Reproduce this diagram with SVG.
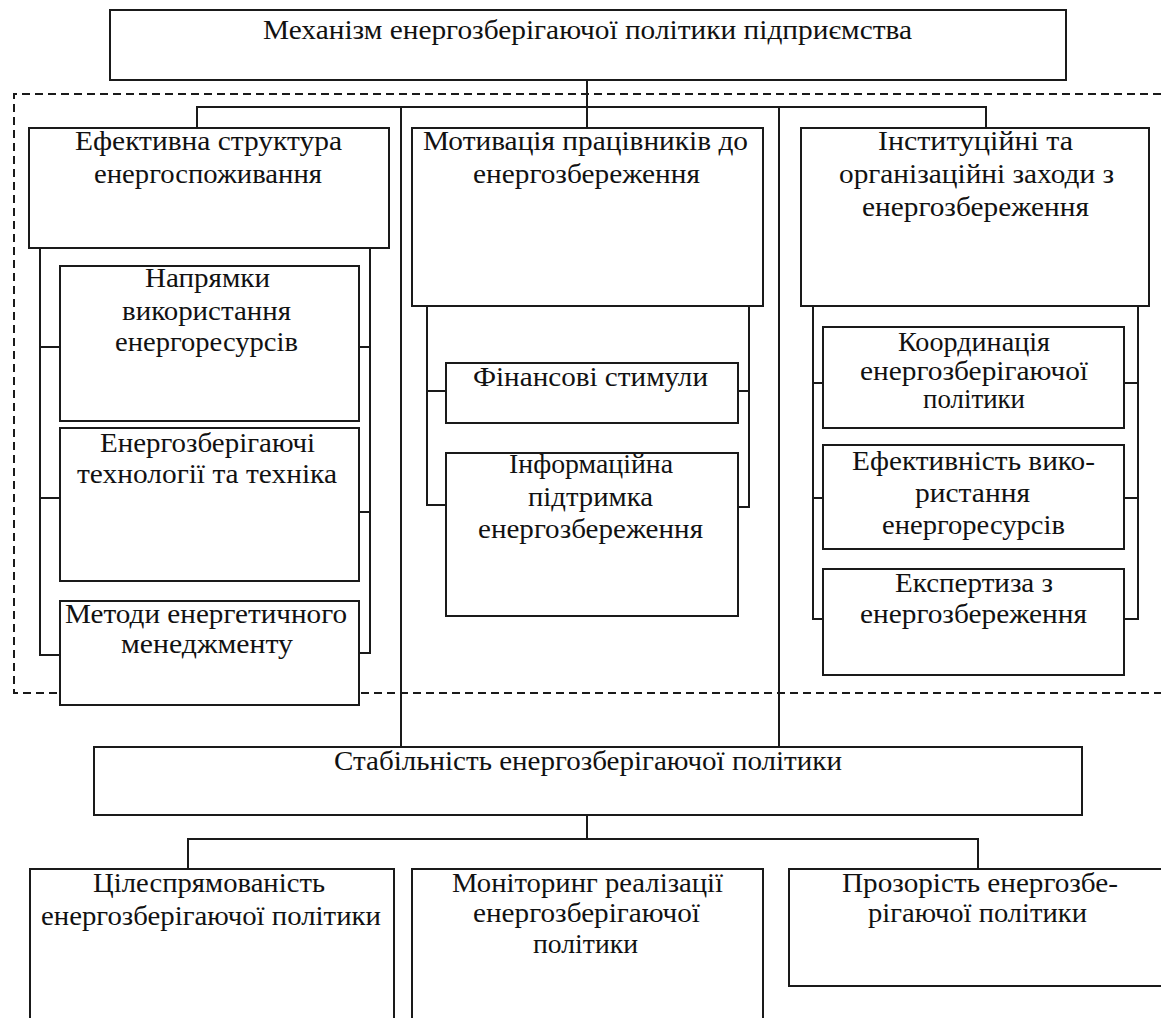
<svg xmlns="http://www.w3.org/2000/svg" width="1161" height="1018" viewBox="0 0 1161 1018">
<style>
.box{fill:#fff;stroke:#1a1a1a;stroke-width:2}
.ln{fill:none;stroke:#1a1a1a;stroke-width:2}
.dash{fill:none;stroke:#1a1a1a;stroke-width:2;stroke-dasharray:8 5}
text{font-family:"Liberation Serif","Times New Roman",serif;font-size:28px;fill:#111}
</style>
<rect width="1161" height="1018" fill="#fff"/>
<g id="dashed-frame">
<path class="dash" d="M1161 94 H14 V693 H1161"/>
</g>
<g id="connectors">
<path class="ln" d="M587 80 V128"/>
<path class="ln" d="M197 128 V107 H986 V128"/>
<path class="ln" d="M401 107 V747"/>
<path class="ln" d="M779 107 V747"/>
<path class="ln" d="M40 248 V655 H60 M40 347 H60 M40 498 H60"/>
<path class="ln" d="M370 248 V653 H359 M370 347 H359 M370 512 H359"/>
<path class="ln" d="M427 306 V505 H446 M427 391 H446"/>
<path class="ln" d="M749 306 V507 H738 M749 391 H738"/>
<path class="ln" d="M813 306 V619 H823 M813 383 H823 M813 498 H823"/>
<path class="ln" d="M1138 306 V619 H1124 M1138 383 H1124 M1138 498 H1124"/>
<path class="ln" d="M587 815 V839"/>
<path class="ln" d="M188 869 V839 H978 V869"/>
</g>
<g id="node-top">
<rect class="box" x="110" y="10" width="956" height="70"/>
<text x="263" y="39" textLength="649" lengthAdjust="spacingAndGlyphs">Механізм енергозберігаючої політики підприємства</text>
</g>
<g id="node-structure">
<rect class="box" x="29" y="128" width="360" height="120"/>
<text x="75" y="150" textLength="267" lengthAdjust="spacingAndGlyphs">Ефективна структура</text>
<text x="94" y="183" textLength="228" lengthAdjust="spacingAndGlyphs">енергоспоживання</text>
</g>
<g id="node-motivation">
<rect class="box" x="412" y="128" width="351" height="178"/>
<text x="423" y="150" textLength="325" lengthAdjust="spacingAndGlyphs">Мотивація працівників  до</text>
<text x="473" y="183" textLength="227" lengthAdjust="spacingAndGlyphs">енергозбереження</text>
</g>
<g id="node-institutional">
<rect class="box" x="801" y="128" width="348" height="178"/>
<text x="878" y="150" textLength="195" lengthAdjust="spacingAndGlyphs">Інституційні  та</text>
<text x="839" y="183" textLength="275" lengthAdjust="spacingAndGlyphs">організаційні  заходи з</text>
<text x="862" y="216" textLength="227" lengthAdjust="spacingAndGlyphs">енергозбереження</text>
</g>
<g id="node-directions">
<rect class="box" x="60" y="266" width="299" height="155"/>
<text x="145" y="287" textLength="125" lengthAdjust="spacingAndGlyphs">Напрямки</text>
<text x="122" y="320" textLength="169" lengthAdjust="spacingAndGlyphs">використання</text>
<text x="115" y="351" textLength="183" lengthAdjust="spacingAndGlyphs">енергоресурсів</text>
</g>
<g id="node-technologies">
<rect class="box" x="60" y="428" width="299" height="153"/>
<text x="100" y="452" textLength="215" lengthAdjust="spacingAndGlyphs">Енергозберігаючі</text>
<text x="77" y="483" textLength="260" lengthAdjust="spacingAndGlyphs">технології  та техніка</text>
</g>
<g id="node-methods">
<rect class="box" x="60" y="601" width="299" height="104"/>
<text x="65" y="623" textLength="282" lengthAdjust="spacingAndGlyphs">Методи енергетичного</text>
<text x="121" y="653" textLength="172" lengthAdjust="spacingAndGlyphs">менеджменту</text>
</g>
<g id="node-financial">
<rect class="box" x="446" y="363" width="292" height="60"/>
<text x="473" y="386" textLength="235" lengthAdjust="spacingAndGlyphs">Фінансові  стимули</text>
</g>
<g id="node-information">
<rect class="box" x="446" y="453" width="292" height="163"/>
<text x="509" y="473" textLength="164" lengthAdjust="spacingAndGlyphs">Інформаційна</text>
<text x="528" y="506" textLength="125" lengthAdjust="spacingAndGlyphs">підтримка</text>
<text x="478" y="538" textLength="225" lengthAdjust="spacingAndGlyphs">енергозбереження</text>
</g>
<g id="node-coordination">
<rect class="box" x="823" y="327" width="301" height="101"/>
<text x="898" y="351" textLength="152" lengthAdjust="spacingAndGlyphs">Координація</text>
<text x="860" y="380" textLength="228" lengthAdjust="spacingAndGlyphs">енергозберігаючої</text>
<text x="923" y="408" textLength="102" lengthAdjust="spacingAndGlyphs">політики</text>
</g>
<g id="node-efficiency">
<rect class="box" x="823" y="445" width="301" height="104"/>
<text x="852" y="470" textLength="243" lengthAdjust="spacingAndGlyphs">Ефективність вико-</text>
<text x="915" y="502" textLength="115" lengthAdjust="spacingAndGlyphs">ристання</text>
<text x="882" y="534" textLength="183" lengthAdjust="spacingAndGlyphs">енергоресурсів</text>
</g>
<g id="node-expertise">
<rect class="box" x="823" y="569" width="301" height="106"/>
<text x="895" y="592" textLength="158" lengthAdjust="spacingAndGlyphs">Експертиза з</text>
<text x="860" y="623" textLength="227" lengthAdjust="spacingAndGlyphs">енергозбереження</text>
</g>
<g id="node-stability">
<rect class="box" x="94" y="747" width="988" height="68"/>
<text x="334" y="770" textLength="508" lengthAdjust="spacingAndGlyphs">Стабільність енергозберігаючої політики</text>
</g>
<g id="node-purposefulness">
<rect class="box" x="30" y="869" width="364" height="160"/>
<text x="93" y="892" textLength="232" lengthAdjust="spacingAndGlyphs">Цілеспрямованість</text>
<text x="41" y="925" textLength="340" lengthAdjust="spacingAndGlyphs">енергозберігаючої політики</text>
</g>
<g id="node-monitoring">
<rect class="box" x="412" y="869" width="351" height="160"/>
<text x="452" y="892" textLength="271" lengthAdjust="spacingAndGlyphs">Моніторинг  реалізації</text>
<text x="473" y="922" textLength="227" lengthAdjust="spacingAndGlyphs">енергозберігаючої</text>
<text x="533" y="953" textLength="105" lengthAdjust="spacingAndGlyphs">політики</text>
</g>
<g id="node-transparency">
<rect class="box" x="789" y="869" width="380" height="117"/>
<text x="842" y="892" textLength="276" lengthAdjust="spacingAndGlyphs">Прозорість енергозбе-</text>
<text x="868" y="922" textLength="219" lengthAdjust="spacingAndGlyphs">рігаючої політики</text>
</g>
</svg>
